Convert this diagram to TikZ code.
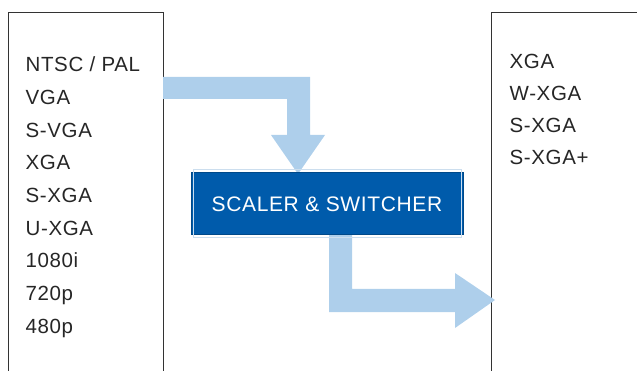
\documentclass[tikz,border=0pt]{standalone}
\usepackage{fontspec}
\setmainfont{Liberation Sans}[LetterSpace=3]
\definecolor{lightarrow}{HTML}{AECFEB}
\definecolor{boxblue}{HTML}{005BAB}
\definecolor{framegray}{HTML}{333333}
\begin{document}
\begin{tikzpicture}[x=1pt,y=-1pt,
  listitem/.style={anchor=base west,inner sep=0pt,font=\fontsize{20.5}{20.5}\selectfont,text=black!85},
  panel/.style={draw=framegray,line width=0.9pt},
  bigarrow/.style={fill=lightarrow,draw=none}]
\useasboundingbox (0,0) rectangle (637,371);
% panels
\draw[panel] (8,380) -- (8,12) -- (163,12) -- (163,380);
\draw[panel] (491,380) -- (491,12) -- (645,12);
% left list
\foreach \t [count=\i from 0] in {NTSC / PAL,VGA,S-VGA,XGA,S-XGA,U-XGA,1080i,720p,480p}
  \node[listitem] (in\i) at (25.5,{71.8+32.65*\i}) {\t};
% right list
\foreach \t [count=\i from 0] in {XGA,W-XGA,S-XGA,S-XGA+}
  \node[listitem] (out\i) at (509.5,{68.3+32*\i}) {\t};
% arrow 1
\fill[bigarrow] (163,77) -- (310,77) -- (310,135) -- (325,135) -- (298,174) -- (271,135) -- (287,135) -- (287,99) -- (163,99) -- cycle;
% arrow 2
\fill[bigarrow] (329,234) -- (352,234) -- (352,289) -- (455,289) -- (455,273) -- (495,300) -- (455,328) -- (455,312) -- (329,312) -- cycle;
% scaler box
\node[fill=boxblue,draw=boxblue!80!black,line width=0.8pt,minimum width=272pt,minimum height=62pt,inner sep=0pt,anchor=north west] (sc) at (191,172) {};
\draw[white!80!boxblue,line width=0.7pt] ([shift={(2.2,-2.2)}]sc.north west) rectangle ([shift={(-2.2,2.2)}]sc.south east);
\node[text=white,font=\fontsize{21}{21}\selectfont,inner sep=0pt,anchor=base] (sctext) at (327,211.7) {SCALER \& SWITCHER};
\end{tikzpicture}
\end{document}
